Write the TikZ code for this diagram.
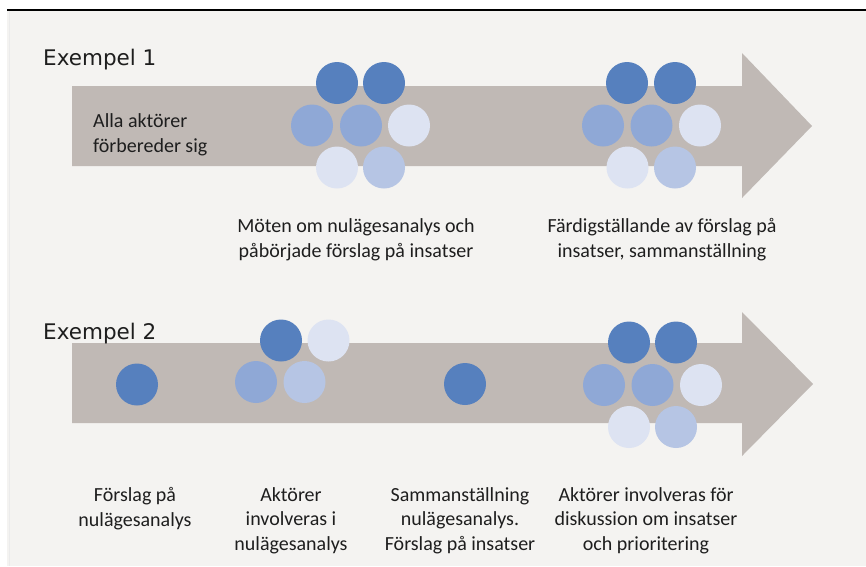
\documentclass[tikz,border=0pt]{standalone}
\usepackage{fontspec}
\setmainfont{Carlito}
\newfontfamily\exfont{DejaVu Sans}
\definecolor{bg}{RGB}{244,243,241}
\definecolor{arrowgray}{RGB}{192,185,181}
\definecolor{cdark}{RGB}{86,128,190}
\definecolor{cmed}{RGB}{143,168,214}
\definecolor{clmed}{RGB}{182,197,228}
\definecolor{cvlight}{RGB}{221,227,242}
\definecolor{txt}{RGB}{30,30,30}
\tikzset{
  dot/.style={circle, minimum size=42pt, inner sep=0pt, fill=#1},
  lbl/.style={font=\fontsize{20}{24.8}\selectfont, text=txt, align=center, inner sep=0pt},
  extitle/.style={font=\exfont\fontsize{21.5}{24}\selectfont, text=txt, anchor=west, inner sep=0pt},
}
\begin{document}
\begin{tikzpicture}[x=1pt,y=-1pt]
\useasboundingbox (0,0) rectangle (866,566);
\fill[white] (0,0) rectangle (866,566);
\fill[bg] (7,10) rectangle (866,566);
\draw[black, line width=1.5pt] (7,10) -- (866,10);
\draw[black!8, line width=0.8pt] (9,11) -- (9,566);

% arrows
\fill[arrowgray] (72,86) -- (742,86) -- (742,53) -- (812,126) -- (742,198) -- (742,166) -- (72,166) -- cycle;
\fill[arrowgray] (72,343) -- (742,343) -- (742,312) -- (813,384) -- (742,456) -- (742,423) -- (72,423) -- cycle;

% titles
\node[extitle] (ex1) at (43,60) {Exempel 1};
\node[extitle] (ex2) at (43,334) {Exempel 2};

% group 1
\node[dot=cdark] (a1) at (337,83) {};
\node[dot=cdark] (a2) at (384,83) {};
\node[dot=cmed] (a3) at (312,125.5) {};
\node[dot=cmed] (a4) at (361,125.5) {};
\node[dot=cvlight] (a5) at (409,125.5) {};
\node[dot=cvlight] (a6) at (337,167.5) {};
\node[dot=clmed] (a7) at (384,167.5) {};

% group 2
\node[dot=cdark] (b1) at (627,83) {};
\node[dot=cdark] (b2) at (675,83) {};
\node[dot=cmed] (b3) at (603,125.5) {};
\node[dot=cmed] (b4) at (651.5,125.5) {};
\node[dot=cvlight] (b5) at (700,125.5) {};
\node[dot=cvlight] (b6) at (627.5,167.5) {};
\node[dot=clmed] (b7) at (675,167.5) {};

% example 2 circles
\node[dot=cdark] (c0) at (137,384.5) {};
\node[dot=cdark] (c1) at (281,340.5) {};
\node[dot=cvlight] (c2) at (328.5,340.5) {};
\node[dot=cmed] (c3) at (256,382) {};
\node[dot=clmed] (c4) at (304.5,382) {};
\node[dot=cdark] (d0) at (465,384) {};
\node[dot=cdark] (e1) at (629,342.5) {};
\node[dot=cdark] (e2) at (676,342.5) {};
\node[dot=cmed] (e3) at (604,385) {};
\node[dot=cmed] (e4) at (652.5,385) {};
\node[dot=cvlight] (e5) at (701,385) {};
\node[dot=cvlight] (e6) at (629,427) {};
\node[dot=clmed] (e7) at (676,427) {};

% labels example 1
\node[lbl, align=left, anchor=west] (t1) at (93,135) {Alla aktörer\\förbereder sig};
\node[lbl] (t2) at (356,240) {Möten om nulägesanalys och\\påbörjade förslag på insatser};
\node[lbl] (t3) at (662,240) {Färdigställande av förslag på\\insatser, sammanställning};

% labels example 2
\node[lbl, anchor=north] (u1) at (135,487) {Förslag på\\nulägesanalys};
\node[lbl, anchor=north] (u2) at (291,487) {Aktörer\\involveras i\\nulägesanalys};
\node[lbl, anchor=north] (u3) at (460,487) {Sammanställning\\nulägesanalys.\\Förslag på insatser};
\node[lbl, anchor=north] (u4) at (646,487) {Aktörer involveras för\\diskussion om insatser\\och prioritering};
\end{tikzpicture}
\end{document}
